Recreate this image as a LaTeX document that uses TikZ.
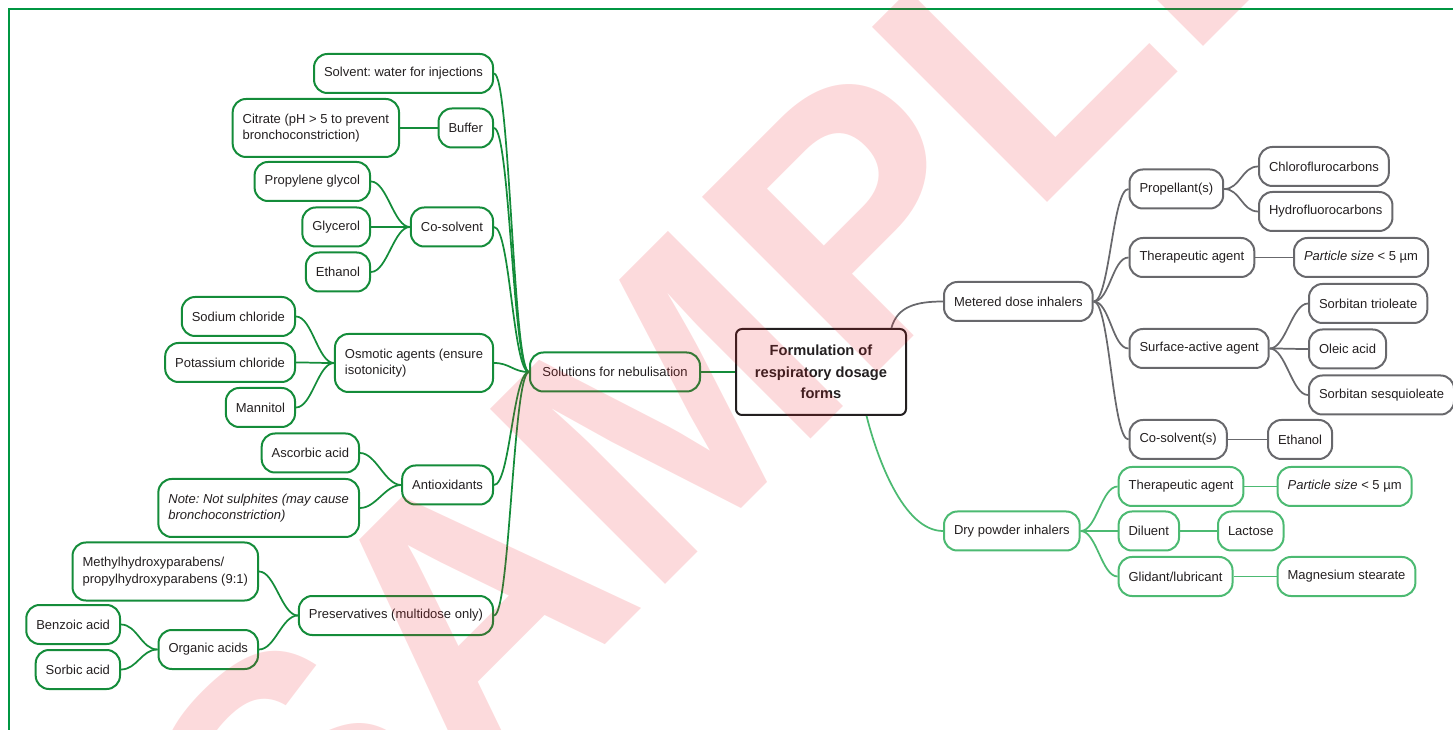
\documentclass[tikz,border=0pt]{standalone}
\usepackage{fontspec}
\setmainfont{Liberation Sans}
\usepackage{tikz}
\frenchspacing

\definecolor{ink}{RGB}{35,31,32}
\definecolor{nebgreen}{RGB}{20,140,58}
\definecolor{mdigray}{RGB}{104,104,108}
\definecolor{dpigreen}{RGB}{76,186,114}
\definecolor{framegreen}{RGB}{0,150,66}
\definecolor{stampred}{RGB}{237,28,36}

\tikzset{
  leaf/.style={draw, line width=1.5pt, rounded corners=10pt, minimum height=29.25pt,
    inner xsep=7.5pt, inner ysep=2pt, text=ink, align=left,
    font=\fontsize{9.75}{12.5}\selectfont},
  twoline/.style={minimum height=43.5pt},
  neb/.style={leaf, draw=nebgreen},
  mdi/.style={leaf, draw=mdigray},
  dpi/.style={leaf, draw=dpigreen},
  hub/.style={draw=ink, line width=1.5pt, rounded corners=4.5pt, text=ink, align=center,
    minimum width=127.5pt, minimum height=64.5pt,
    font=\fontsize{11}{16}\selectfont\bfseries},
  nebline/.style={draw=nebgreen, line width=1.3pt},
  mdiline/.style={draw=mdigray, line width=1.3pt},
  dpiline/.style={draw=dpigreen, line width=1.3pt},
  tol/.style={to path={.. controls +(-16,0) and +(16,0) .. (\tikztotarget)}},
  tor/.style={to path={.. controls +(16,0) and +(-16,0) .. (\tikztotarget)}},
  stamp/.style={text=stampred, text opacity=0.16, inner sep=0pt,
    font=\fontsize{270}{270}\selectfont\bfseries}
}

\begin{document}
\begin{tikzpicture}[x=0.75pt, y=-0.75pt]
  \useasboundingbox (0,0) rectangle (1453,730);
  \draw[framegreen, line width=1.5pt] (9,731) -- (9,9) -- (1454,9);

  % centre
  \node[hub] (core) at (821,372) {Formulation of\\respiratory dosage\\forms};

  % solutions for nebulisation
  \node[neb, minimum width=127.5pt, align=center] (sol) at (615,372) {Solutions for nebulisation};
  \node[neb, anchor=east] (solv) at (494,73.5) {Solvent: water for injections};
  \node[neb, anchor=east] (buf) at (494,128) {Buffer};
  \node[neb, twoline, anchor=east] (citr) at (400,128) {Citrate (pH > 5 to prevent\\bronchoconstriction)};
  \node[neb, anchor=east] (cosol) at (494,227) {Co-solvent};
  \node[neb, anchor=east] (pg) at (371,181.5) {Propylene glycol};
  \node[neb, anchor=east] (glyc) at (371,227) {Glycerol};
  \node[neb, anchor=east] (eth) at (371,272) {Ethanol};
  \node[neb, twoline, anchor=east] (osm) at (494,363) {Osmotic agents (ensure\\isotonicity)};
  \node[neb, anchor=east] (nacl) at (296,316.5) {Sodium chloride};
  \node[neb, anchor=east] (kcl) at (296,362.5) {Potassium chloride};
  \node[neb, anchor=east] (mann) at (296,407.5) {Mannitol};
  \node[neb, anchor=east] (antiox) at (494,485) {Antioxidants};
  \node[neb, anchor=east] (ascorb) at (360,453) {Ascorbic acid};
  \node[neb, twoline, anchor=east] (note) at (360,508) {\itshape Note: Not sulphites (may cause\\\itshape bronchoconstriction)};
  \node[neb, anchor=east] (pres) at (494,615.5) {Preservatives (multidose only)};
  \node[neb, twoline, anchor=east] (paraben) at (259,571.5) {Methylhydroxyparabens/\\propylhydroxyparabens (9:1)};
  \node[neb, anchor=east] (orgac) at (259,649.5) {Organic acids};
  \node[neb, anchor=east] (benz) at (121,624.5) {Benzoic acid};
  \node[neb, anchor=east] (sorb) at (121,669.5) {Sorbic acid};

  % metered dose inhalers
  \node[mdi, anchor=west] (mdi) at (943,301.5) {Metered dose inhalers};
  \node[mdi, anchor=west] (prop) at (1128.5,189) {Propellant(s)};
  \node[mdi, anchor=west] (cfc) at (1258,166.5) {Chloroflurocarbons};
  \node[mdi, anchor=west] (hfc) at (1258,211.5) {Hydrofluorocarbons};
  \node[mdi, anchor=west] (mther) at (1128.5,257.5) {Therapeutic agent};
  \node[mdi, anchor=west] (mpart) at (1293,257.5) {\textit{Particle size} < 5 µm};
  \node[mdi, anchor=west] (surf) at (1128.5,348.5) {Surface-active agent};
  \node[mdi, anchor=west] (strio) at (1308,303.5) {Sorbitan trioleate};
  \node[mdi, anchor=west] (oleic) at (1308,349) {Oleic acid};
  \node[mdi, anchor=west] (ssesq) at (1308,395) {Sorbitan sesquioleate};
  \node[mdi, anchor=west] (mcos) at (1128.5,439.5) {Co-solvent(s)};
  \node[mdi, anchor=west] (meth) at (1267,439.5) {Ethanol};

  % dry powder inhalers
  \node[dpi, anchor=west] (drypow) at (943,531) {Dry powder inhalers};
  \node[dpi, anchor=west] (dther) at (1117.6,486.5) {Therapeutic agent};
  \node[dpi, anchor=west] (dpart) at (1276.6,486.5) {\textit{Particle size} < 5 µm};
  \node[dpi, anchor=west] (dil) at (1117.6,531) {Diluent};
  \node[dpi, anchor=west] (lact) at (1217,531) {Lactose};
  \node[dpi, anchor=west] (glid) at (1117.6,576.5) {Glidant/lubricant};
  \node[dpi, anchor=west] (mgst) at (1276.6,576.5) {Magnesium stearate};

  % links, left
  \draw[nebline] (core.west) -- (sol.east);
  \draw[nebline] (sol.west) to[tol] (solv.east);
  \draw[nebline] (sol.west) to[tol] (buf.east);
  \draw[nebline] (sol.west) to[tol] (cosol.east);
  \draw[nebline] (sol.west) to[tol] (osm.east);
  \draw[nebline] (sol.west) to[tol] (antiox.east);
  \draw[nebline] (sol.west) to[tol] (pres.east);
  \draw[nebline] (buf.west) -- (citr.east);
  \draw[nebline] (cosol.west) to[tol] (pg.east);
  \draw[nebline] (cosol.west) to[tol] (glyc.east);
  \draw[nebline] (cosol.west) to[tol] (eth.east);
  \draw[nebline] (osm.west) to[tol] (nacl.east);
  \draw[nebline] (osm.west) to[tol] (kcl.east);
  \draw[nebline] (osm.west) to[tol] (mann.east);
  \draw[nebline] (antiox.west) to[tol] (ascorb.east);
  \draw[nebline] (antiox.west) to[tol] (note.east);
  \draw[nebline] (pres.west) to[tol] (paraben.east);
  \draw[nebline] (pres.west) to[tol] (orgac.east);
  \draw[nebline] (orgac.west) to[tol] (benz.east);
  \draw[nebline] (orgac.west) to[tol] (sorb.east);

  % links, right
  \draw[mdiline] (core.32) .. controls +(6,-22) and +(-26,0) .. (mdi.west);
  \draw[mdiline] (mdi.east) to[tor] (prop.west);
  \draw[mdiline] (mdi.east) to[tor] (mther.west);
  \draw[mdiline] (mdi.east) to[tor] (surf.west);
  \draw[mdiline] (mdi.east) to[tor] (mcos.west);
  \draw[mdiline] (prop.east) to[tor] (cfc.west);
  \draw[mdiline] (prop.east) to[tor] (hfc.west);
  \draw[mdiline] (mther.east) -- (mpart.west);
  \draw[mdiline] (surf.east) to[tor] (strio.west);
  \draw[mdiline] (surf.east) to[tor] (oleic.west);
  \draw[mdiline] (surf.east) to[tor] (ssesq.west);
  \draw[mdiline] (mcos.east) -- (meth.west);
  \draw[dpiline] (core.-44) .. controls +(10,40) and +(-40,0) .. (drypow.west);
  \draw[dpiline] (drypow.east) to[tor] (dther.west);
  \draw[dpiline] (drypow.east) to[tor] (dil.west);
  \draw[dpiline] (drypow.east) to[tor] (glid.west);
  \draw[dpiline] (dther.east) -- (dpart.west);
  \draw[dpiline] (dil.east) -- (lact.west);
  \draw[dpiline] (glid.east) -- (mgst.west);

  % watermark
  \node[stamp, rotate=45, anchor=base west] (wm) at (295,955) {SAMPLE};
\end{tikzpicture}
\end{document}
